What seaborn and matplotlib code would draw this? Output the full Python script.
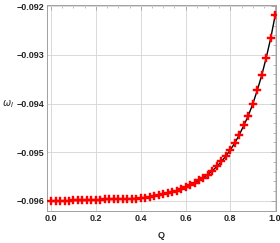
import numpy as np
import pandas as pd
import matplotlib
matplotlib.use("Agg")
import matplotlib.pyplot as plt
from matplotlib.ticker import MultipleLocator, FuncFormatter
import seaborn as sns

# values
Q = [round(0.02 * i, 2) for i in range(51)]
omega_I = [-0.09600, -0.09600, -0.09600, -0.09600, -0.09600, -0.09599, -0.09599,
           -0.09599, -0.09599, -0.09598, -0.09598, -0.09598, -0.09597, -0.09597,
           -0.09597, -0.09596, -0.09596, -0.09596, -0.09595, -0.09595, -0.09594,
           -0.09593, -0.09592, -0.09590, -0.09588, -0.09586, -0.09584, -0.09582,
           -0.09579, -0.09575, -0.09572, -0.09568, -0.09563, -0.09558, -0.09552,
           -0.09546, -0.09538, -0.09529, -0.09519, -0.09508, -0.09495, -0.09481,
           -0.09464, -0.09445, -0.09425, -0.09401, -0.09373, -0.09342, -0.09306,
           -0.09266, -0.09219]

df = pd.DataFrame({"Q": Q, "w": omega_I})

sns.set_style("white")
plt.rcParams['font.family'] = ['Liberation Sans', 'DejaVu Sans']

fig = plt.figure(figsize=(2.8, 2.43), dpi=100)
ax = fig.add_axes([0.168, 0.132, 0.818, 0.847])

sns.lineplot(data=df, x="Q", y="w", color="black", lw=1.0, ax=ax)
sns.scatterplot(data=df, x="Q", y="w", color="#ff0000", marker="P", s=26,
                edgecolor="#ff0000", linewidth=0.3, ax=ax, zorder=3)

ax.set_xlim(-0.018, 1.004)
ax.set_ylim(-0.096205, -0.09198)
ax.xaxis.set_major_locator(MultipleLocator(0.2))
ax.xaxis.set_minor_locator(MultipleLocator(0.05))
ax.yaxis.set_major_locator(MultipleLocator(0.001))
ax.yaxis.set_minor_locator(MultipleLocator(0.0002))
ax.xaxis.set_major_formatter(FuncFormatter(lambda v, p: f"{v:.1f}"))
ax.yaxis.set_major_formatter(FuncFormatter(lambda v, p: f"{v:.3f}".replace("-", "\u2212")))

ax.grid(True, which="major", color="#d9d9d9", lw=0.7)
for s in ax.spines.values():
    s.set_color("#a0a0a0")
    s.set_linewidth(0.7)
ax.tick_params(which="both", direction="in", top=True, right=True, color="#a0a0a0")
ax.tick_params(which="major", length=3.5, width=0.6, labelsize=6.5, pad=2)
ax.tick_params(which="minor", length=2, width=0.5)
for lab in ax.get_xticklabels() + ax.get_yticklabels():
    lab.set_fontweight("bold")

ax.set_xlabel("Q", fontsize=6.5, fontweight="bold", labelpad=6)
ax.set_ylabel(r"$\omega_I$", fontsize=7, rotation=0)
ax.yaxis.set_label_coords(-0.17, 0.49)

fig.savefig("out.png", dpi=100)
